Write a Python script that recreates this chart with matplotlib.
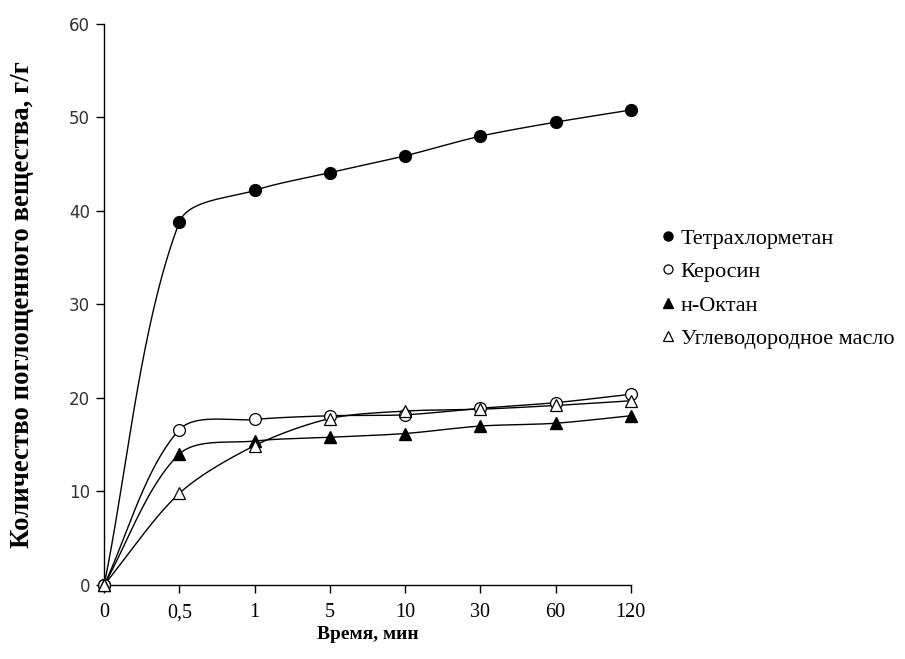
import numpy as np
import matplotlib
matplotlib.use("Agg")
import matplotlib.pyplot as plt
from matplotlib.lines import Line2D

# Sorption data: absorbed amount (g/g) vs time (min), categorical time axis
time_labels = ["0", "0,5", "1", "5", "10", "30", "60", "120"]
tetrachloromethane = [0, 38.8, 42.2, 44.1, 45.9, 48.0, 49.5, 50.8]
kerosene = [0, 16.6, 17.7, 18.1, 18.2, 18.9, 19.5, 20.4]
n_octane = [0, 14.0, 15.4, 15.8, 16.2, 17.0, 17.3, 18.1]
hydrocarbon_oil = [0, 9.8, 14.9, 17.8, 18.6, 18.8, 19.2, 19.7]
series_names = ["Тетрахлорметан", "Керосин", "н-Октан", "Углеводородное масло"]


def smooth_display(ax, xs, ys, k=0.3, n=60):
    """Spreadsheet-style smoothed line: cubic Bezier segments built in
    screen space, tangent from neighbouring points, handle length
    proportional to each segment's own length."""
    trans = ax.transData
    pts = trans.transform(np.column_stack([xs, ys]).astype(float))
    m = len(pts)
    tangents = []
    for i in range(m):
        a = pts[max(i - 1, 0)]
        b = pts[min(i + 1, m - 1)]
        d = b - a
        tangents.append(d / np.hypot(*d))
    out = []
    t = np.linspace(0, 1, n)[:, None]
    for i in range(m - 1):
        p1, p2 = pts[i], pts[i + 1]
        L = np.hypot(*(p2 - p1))
        c1 = p1 + tangents[i] * L * k
        c2 = p2 - tangents[i + 1] * L * k
        seg = ((1 - t) ** 3) * p1 + 3 * ((1 - t) ** 2) * t * c1 + 3 * (1 - t) * t ** 2 * c2 + t ** 3 * p2
        out.append(seg if i == 0 else seg[1:])
    curve = trans.inverted().transform(np.vstack(out))
    return curve[:, 0], curve[:, 1]


fig = plt.figure(figsize=(9.05, 6.59), dpi=100)
ax = fig.add_axes([0.115, 0.1123, 0.582, 0.8513])

x = np.arange(len(time_labels))
ax.set_xlim(0, len(time_labels) - 1)
ax.set_ylim(0, 60)

styles = [
    dict(marker="o", mfc="black", mec="black", ms=8.5),
    dict(marker="o", mfc="white", mec="black", ms=8.5, mew=0.9),
    dict(marker="^", mfc="black", mec="black", ms=8.5),
    dict(marker="^", mfc="white", mec="black", ms=9, mew=0.9),
]
data = [tetrachloromethane, kerosene, n_octane, hydrocarbon_oil]

for ys in data:
    sx, sy = smooth_display(ax, x, ys)
    ax.plot(sx, sy, color="black", lw=1.0, zorder=2, clip_on=False)
for ys, st in zip(data, styles):
    ax.plot(x, ys, linestyle="none", zorder=3, clip_on=False, **st)

ax.set_xticks(x)
ax.set_xticklabels(time_labels, fontfamily="Liberation Serif", fontsize=14.5)
ax.set_yticks(np.arange(0, 61, 10))
for lab in ax.get_yticklabels():
    lab.set_fontfamily("DejaVu Sans")
    lab.set_fontsize(12)
    lab.set_color("#333333")
ax.tick_params(axis="both", direction="out", length=6, width=1.0, color="black")
ax.tick_params(axis="x", pad=7)
ax.tick_params(axis="y", pad=4)
ax.spines["top"].set_visible(False)
ax.spines["right"].set_visible(False)
ax.spines["left"].set_linewidth(1.0)
ax.spines["bottom"].set_linewidth(1.0)

ax.set_xlabel("Время, мин", fontfamily="Liberation Serif", fontweight="bold", fontsize=14, labelpad=3)
fig.text(23 / 905, 1 - 305 / 659, "Количество поглощенного вещества, г/г",
         rotation=90, ha="center", va="center", fontfamily="Liberation Serif",
         fontweight="bold", fontsize=19.3)

handles = []
for st in styles:
    s = dict(st)
    s["ms"] = 6.5
    handles.append(Line2D([], [], linestyle="none", **s))
fig.legend(handles, series_names, loc="upper left", bbox_to_anchor=(0.709, 0.684),
           frameon=False, handlelength=0.55, handletextpad=0.3, labelspacing=0.58,
           prop={"family": "Liberation Serif", "size": 16})

fig.savefig("out.png", dpi=100, facecolor="white")
